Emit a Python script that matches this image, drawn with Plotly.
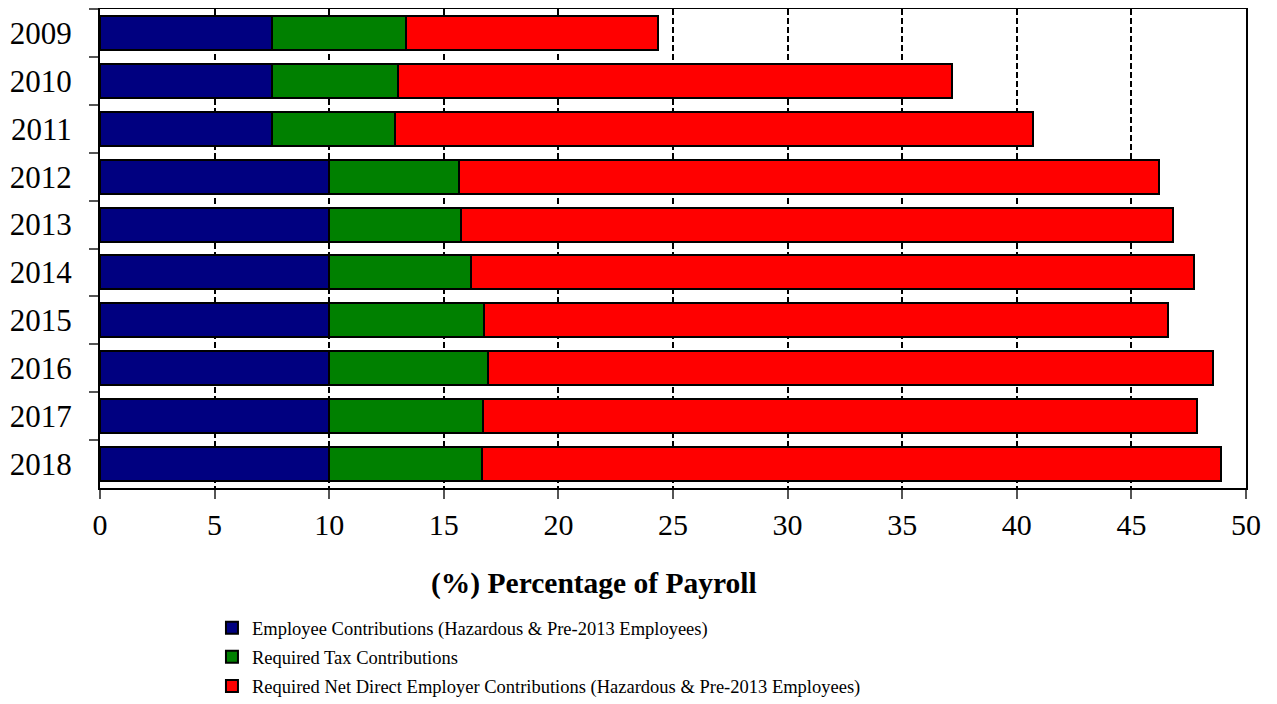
import plotly.graph_objects as go

years = ["2009", "2010", "2011", "2012", "2013", "2014", "2015", "2016", "2017", "2018"]
employee = [7.5, 7.5, 7.5, 10.0, 10.0, 10.0, 10.0, 10.0, 10.0, 10.0]
tax = [5.85, 5.48, 5.35, 5.66, 5.75, 6.19, 6.77, 6.93, 6.71, 6.68]
totals = [24.35, 37.17, 40.72, 46.19, 46.8, 47.75, 46.58, 48.57, 47.86, 48.92]
employer = [round(t - e - x, 2) for t, e, x in zip(totals, employee, tax)]

names = [
    "Employee Contributions (Hazardous & Pre-2013 Employees)",
    "Required Tax Contributions",
    "Required Net Direct Employer Contributions (Hazardous & Pre-2013 Employees)",
]
colors = ["#000080", "#008000", "#FF0000"]
series = [employee, tax, employer]

fig = go.Figure()
for i, (nm, col, vals) in enumerate(zip(names, colors, series)):
    fig.add_trace(go.Bar(
        y=years, x=vals, name=nm, orientation="h",
        marker=dict(color=col, line=dict(color="black", width=2)),
        legendgroup=f"g{i}",
        hoverinfo="x+name",
    ))

# page body has an 8px default margin, so the figure is 8px smaller
W, H = 1269, 696
fig.update_layout(
    width=W, height=H,
    barmode="stack",
    bargap=0.29,
    plot_bgcolor="white",
    paper_bgcolor="white",
    margin=dict(l=92, r=31, t=1, b=216, autoexpand=False),
    font=dict(family="Liberation Serif, Times New Roman, serif", color="black"),
    showlegend=True,
    legend=dict(
        x=0.0977, xanchor="left",
        y=-0.2532, yanchor="top",
        font=dict(size=18.5, family="Liberation Serif, Times New Roman, serif"),
        traceorder="grouped",
        tracegroupgap=2,
        bgcolor="rgba(0,0,0,0)",
    ),
    annotations=[dict(
        text="<b>(%) Percentage of Payroll</b>",
        xref="paper", yref="paper", x=0.431, y=-0.2004,
        xanchor="center", yanchor="middle", showarrow=False,
        font=dict(size=29.5, family="Liberation Serif, Times New Roman, serif"),
    )],
)
fig.update_xaxes(
    range=[0, 50], dtick=5, tick0=0,
    showgrid=True, gridcolor="black", gridwidth=2, griddash="6px,3px",
    zeroline=False, automargin=False,
    showline=True, linecolor="black", linewidth=2, mirror=True,
    ticks="outside", ticklen=9, tickcolor="#555", tickwidth=1.5,
    ticklabelstandoff=0,
    tickfont=dict(size=30),
)
fig.update_yaxes(
    categoryorder="array", categoryarray=years, autorange="reversed",
    showgrid=False, zeroline=False, automargin=False,
    showline=True, linecolor="black", linewidth=2, mirror=True,
    ticks="outside", ticklen=9, tickcolor="#555", tickwidth=1.5,
    tickson="boundaries",
    ticklabelstandoff=20,
    tickfont=dict(size=31),
)
fig.write_html("out.html")
